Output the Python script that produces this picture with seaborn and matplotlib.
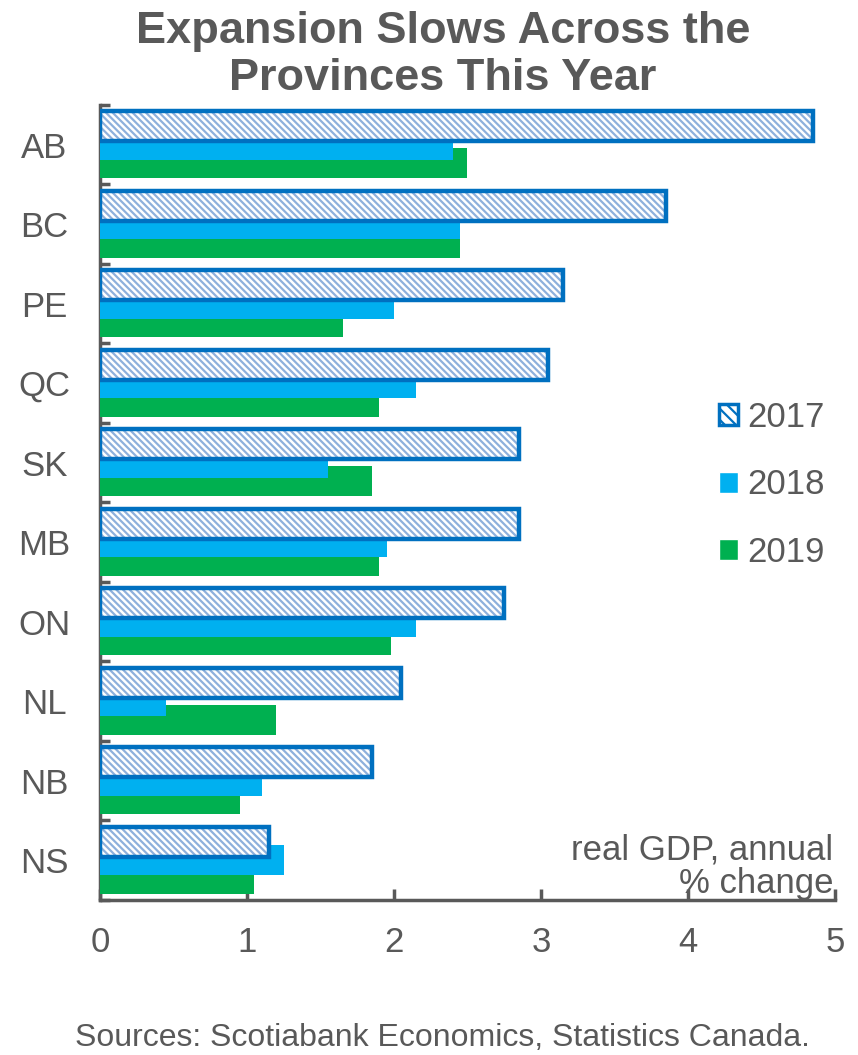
import numpy as np
import pandas as pd
import matplotlib.pyplot as plt
import matplotlib.patches as mpatches
import seaborn as sns

# real GDP, annual % change
provinces = ['AB', 'BC', 'PE', 'QC', 'SK', 'MB', 'ON', 'NL', 'NB', 'NS']
years = ['2017', '2018', '2019']
gdp_2017 = [4.85, 3.85, 3.15, 3.05, 2.85, 2.85, 2.75, 2.05, 1.85, 1.15]
gdp_2018 = [2.40, 2.45, 2.00, 2.15, 1.55, 1.95, 2.15, 0.45, 1.10, 1.25]
gdp_2019 = [2.50, 2.45, 1.65, 1.90, 1.85, 1.90, 1.98, 1.20, 0.95, 1.05]

grey = '#595959'
dark_blue = '#0070c0'
hatch_blue = '#8eb0dc'
colors = {'2017': 'white', '2018': '#00b0f0', '2019': '#00b050'}

df = pd.DataFrame({
    'province': provinces * 3,
    'year': [y for y in years for _ in provinces],
    'value': gdp_2017 + gdp_2018 + gdp_2019,
})

sns.set_style('white')
plt.rcParams['font.family'] = ['Liberation Sans', 'DejaVu Sans']
plt.rcParams['hatch.linewidth'] = 1.6

fig = plt.figure(figsize=(8.58, 10.55), dpi=100)
ax = fig.add_axes([0.1166, 0.147, 0.8564, 0.7535])

sns.barplot(data=df, x='value', y='province', hue='year', orient='h',
            dodge=True, width=0.7, palette=colors, saturation=1, order=provinces,
            hue_order=years, legend=False, ax=ax)

""" overlapping bars, like the Excel original """
bar_h = 0.38
for i, cont in enumerate(ax.containers):
    for bar in cont:
        c = bar.get_y() + bar.get_height() / 2
        bar.set_y(c - bar_h / 2)
        bar.set_height(bar_h)
        bar.set_zorder(5 - i)
        bar.set_linewidth(0)
        if years[i] == '2017':
            bar.set_facecolor('white')
            bar.set_edgecolor(hatch_blue)
            bar.set_hatch('\\\\\\\\\\')
            ax.add_patch(mpatches.Rectangle((bar.get_x(), bar.get_y()), bar.get_width(), bar.get_height(),
                                            fill=False, edgecolor=dark_blue, linewidth=3.2, zorder=5.5))

ax.set_xlim(0, 5)
ax.set_ylim(len(provinces) - 0.5, -0.5)
ax.set_xticks(range(6))
ax.set_yticks(range(len(provinces)))
ax.set_yticks(np.arange(-0.5, len(provinces), 1), minor=True)
ax.tick_params(left=True, bottom=True, which='both')
ax.tick_params(axis='y', which='major', length=0, labelsize=25, labelcolor=grey, pad=40)
for lab in ax.get_yticklabels():
    lab.set_horizontalalignment('center')
ax.tick_params(axis='y', which='minor', direction='in', length=7, width=2.5, color=grey)
ax.tick_params(axis='x', which='major', direction='in', length=8, width=2.5, color=grey,
               labelsize=25, labelcolor=grey, pad=19)
ax.set_xlabel('')
ax.set_ylabel('')
for s in ['top', 'right']:
    ax.spines[s].set_visible(False)
for s in ['left', 'bottom']:
    ax.spines[s].set_color(grey)
    ax.spines[s].set_linewidth(2.5)

ax.text(4.99, 9.5, 'real GDP, annual\n% change', ha='right', va='bottom',
        fontsize=25, color=grey, linespacing=1.0)

handles = [mpatches.Patch(facecolor='white', edgecolor=dark_blue, hatch='\\\\\\', linewidth=2.5),
           mpatches.Patch(facecolor=colors['2018']),
           mpatches.Patch(facecolor=colors['2019'])]
leg = ax.legend(handles, years, loc='center left', bbox_to_anchor=(0.80, 0.522),
                frameon=False, fontsize=25, labelspacing=1.0, handlelength=0.55,
                handleheight=0.55, handletextpad=0.25, labelcolor=grey)

fig.suptitle('Expansion Slows Across the\nProvinces This Year', x=0.516, fontsize=32.5,
             fontweight='bold', color=grey, y=0.990, linespacing=1.2)
fig.text(0.516, 0.009, 'Sources: Scotiabank Economics, Statistics Canada.',
         ha='center', va='baseline', fontsize=23, color=grey)

plt.savefig('out.png', dpi=100)
